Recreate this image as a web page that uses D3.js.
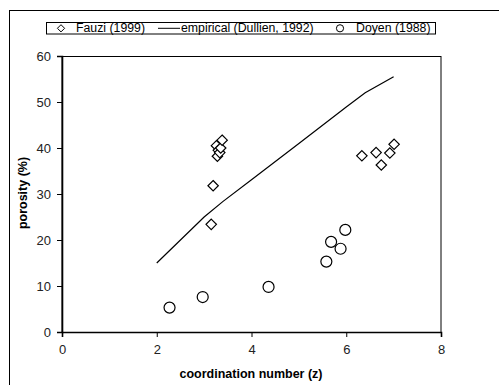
<!DOCTYPE html>
<html>
<head>
<meta charset="utf-8">
<script src="https://cdn.jsdelivr.net/npm/d3@7"></script>
<style>
  html, body { margin: 0; padding: 0; background: #fff; }
  svg { display: block; font-family: "Liberation Sans", Arial, sans-serif; }
</style>
</head>
<body>
<svg id="chart" width="499" height="385"></svg>
<script>
// Fauzi (1999) measurements: coordination number vs porosity
const fauziZ   = [3.15, 3.19, 3.28, 3.26, 3.30, 3.33, 3.35, 3.38, 6.33, 6.63, 6.74, 6.92, 7.01];
const fauziPor = [23.4, 31.8, 38.2, 40.5, 39.5, 39.0, 40.0, 41.7, 38.3, 39.0, 36.3, 38.9, 40.8];

// Doyen (1988) measurements
const doyenZ   = [2.27, 2.97, 4.36, 5.58, 5.68, 5.88, 5.98];
const doyenPor = [5.3, 7.6, 9.8, 15.3, 19.6, 18.1, 22.2];

// Empirical relation (Dullien, 1992)
const empZ   = [2.0, 3.0, 3.4, 4.0, 5.0, 6.0, 6.4, 7.0];
const empPor = [15.0, 25.0, 28.4, 33.1, 41.0, 48.9, 52.0, 55.5];

const xTicks = [0, 2, 4, 6, 8];
const yTicks = [0, 10, 20, 30, 40, 50, 60];

const svg = d3.select("#chart");
const plotL = 62, plotR = 441, plotT = 56, plotB = 332;

const x = d3.scaleLinear().domain([0, 8]).range([plotL, plotR]);
const y = d3.scaleLinear().domain([0, 60]).range([plotB, plotT]);

// outer chart frame
svg.append("rect")
  .attr("x", 9.5).attr("y", 10.5)
  .attr("width", 520).attr("height", 400)
  .attr("fill", "none").attr("stroke", "#000").attr("stroke-width", 1);

// plot area border
svg.append("rect")
  .attr("x", plotL).attr("y", plotT + 0.5)
  .attr("width", plotR - plotL).attr("height", plotB - plotT)
  .attr("fill", "none").attr("stroke", "#000").attr("stroke-width", 1);

// axes
const xAxis = d3.axisBottom(x).tickValues(xTicks).tickSize(5).tickPadding(6).tickFormat(d3.format("d"));
const yAxis = d3.axisLeft(y).tickValues(yTicks).tickSize(5).tickPadding(6).tickFormat(d3.format("d"));

const gx = svg.append("g").attr("transform", `translate(0,${plotB})`).call(xAxis);
const gy = svg.append("g").attr("transform", `translate(${plotL},0)`).call(yAxis);
[gx, gy].forEach(g => {
  g.select(".domain").attr("stroke", "#000").attr("stroke-width", 1.6);
  g.selectAll(".tick line").attr("stroke", "#000");
  g.selectAll(".tick text").attr("fill", "#222").style("font-size", "13px");
});
gx.selectAll(".tick text").attr("dy", "0.85em");

// axis titles
svg.append("text")
  .attr("x", 251).attr("y", 378)
  .attr("text-anchor", "middle")
  .style("font-size", "12.5px").style("font-weight", "bold")
  .text("coordination number (z)");

svg.append("text")
  .attr("transform", `translate(27,193) rotate(-90)`)
  .attr("text-anchor", "middle")
  .style("font-size", "12.5px").style("font-weight", "bold")
  .text("porosity (%)");

// empirical line
const line = d3.line().x(d => x(d[0])).y(d => y(d[1]));
svg.append("path")
  .datum(empZ.map((z, i) => [z, empPor[i]]))
  .attr("d", line)
  .attr("fill", "none").attr("stroke", "#000").attr("stroke-width", 1.2);

// diamonds
const diamond = (cx, cy, r) => `M${cx},${cy - r}L${cx + r},${cy}L${cx},${cy + r}L${cx - r},${cy}Z`;
svg.append("g").selectAll("path")
  .data(fauziZ.map((z, i) => [z, fauziPor[i]]))
  .join("path")
  .attr("d", d => diamond(x(d[0]), y(d[1]), 5.2))
  .attr("fill", "#fff").attr("stroke", "#000").attr("stroke-width", 1.2);

// circles
svg.append("g").selectAll("circle")
  .data(doyenZ.map((z, i) => [z, doyenPor[i]]))
  .join("circle")
  .attr("cx", d => x(d[0])).attr("cy", d => y(d[1]))
  .attr("r", 5.5)
  .attr("fill", "#fff").attr("stroke", "#000").attr("stroke-width", 1.2);

// legend
const lg = svg.append("g");
lg.append("rect")
  .attr("x", 46.5).attr("y", 22.5).attr("width", 389).attr("height", 11.5)
  .attr("fill", "#fff").attr("stroke", "#000").attr("stroke-width", 1);
lg.append("path").attr("d", diamond(61, 28.3, 3.6))
  .attr("fill", "#fff").attr("stroke", "#000").attr("stroke-width", 1);
lg.append("text").attr("x", 76).attr("y", 32.3).style("font-size", "12.3px").text("Fauzi (1999)");
lg.append("line").attr("x1", 158).attr("x2", 180).attr("y1", 28.3).attr("y2", 28.3)
  .attr("stroke", "#000").attr("stroke-width", 1);
lg.append("text").attr("x", 181).attr("y", 32.3).style("font-size", "12.3px").text("empirical (Dullien, 1992)");
lg.append("circle").attr("cx", 340).attr("cy", 28.3).attr("r", 3.6)
  .attr("fill", "#fff").attr("stroke", "#000").attr("stroke-width", 1);
lg.append("text").attr("x", 356).attr("y", 32.3).style("font-size", "12.3px").text("Doyen (1988)");
</script>
</body>
</html>
